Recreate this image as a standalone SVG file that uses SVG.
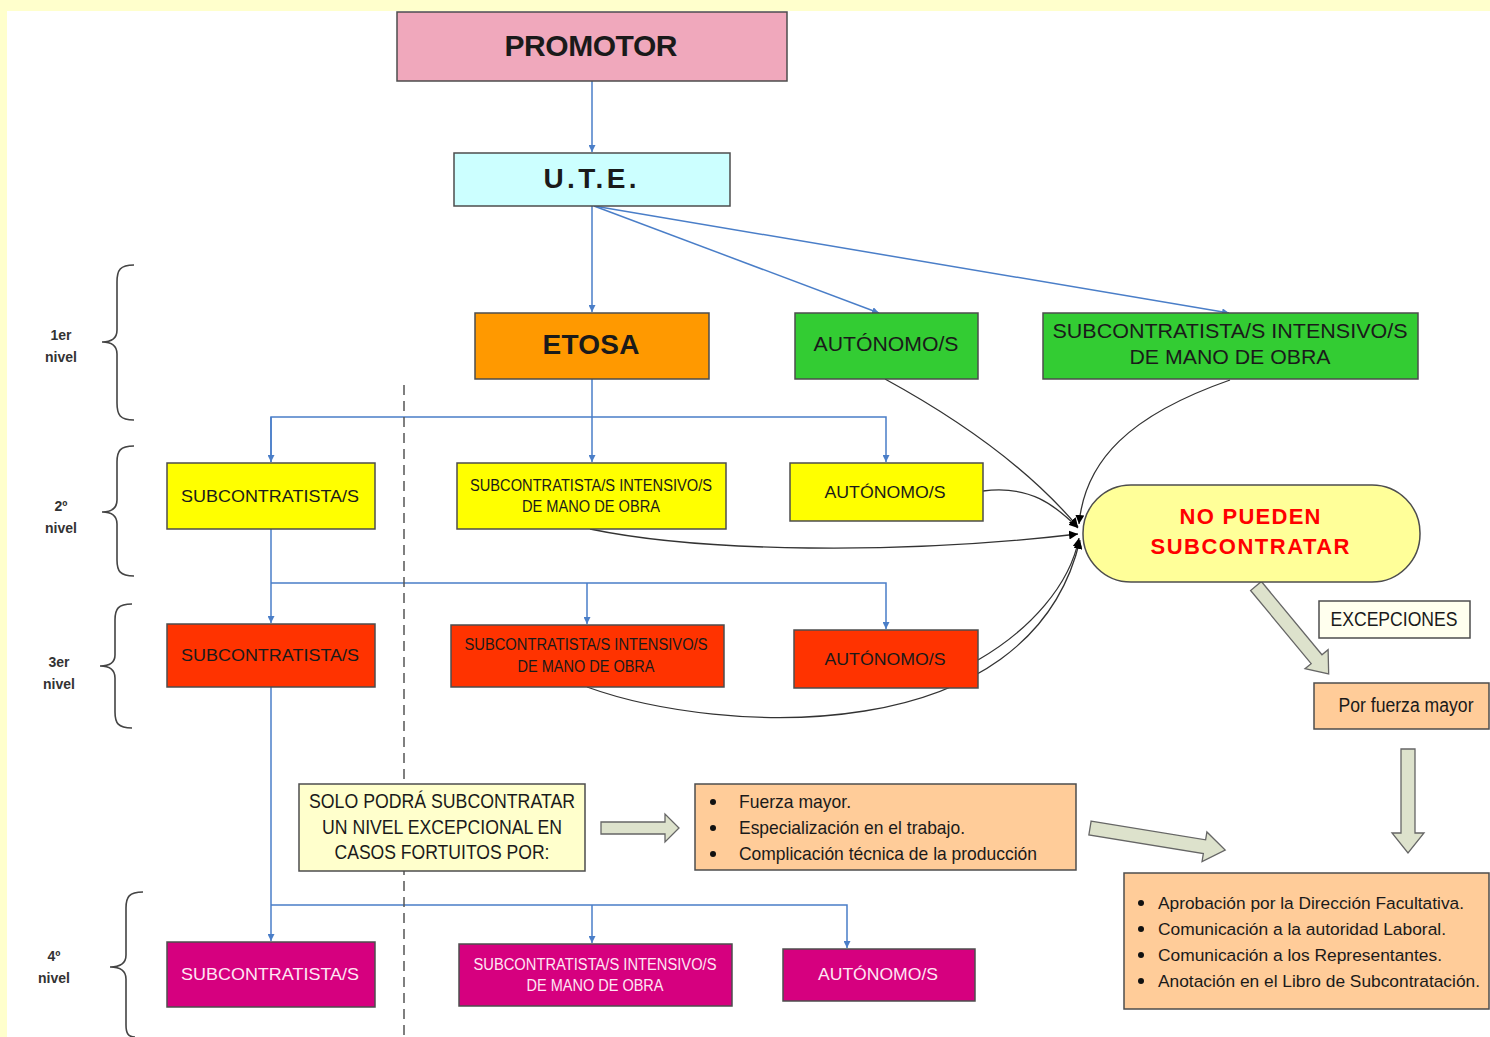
<svg xmlns="http://www.w3.org/2000/svg" width="1490" height="1037" viewBox="0 0 1490 1037">
<style>
.box{stroke:#4d4d4d;stroke-width:1.5}
.t{font-family:"Liberation Sans",Arial,sans-serif;text-anchor:middle;fill:#1a1a1a}
.b{font-weight:bold}
.conn{fill:none;stroke:#4A7EC8;stroke-width:1.5}
.cur{fill:none;stroke:#333;stroke-width:1.3}
.blk{fill:#DDE2CC;stroke:#666;stroke-width:1.3}
.brace{fill:none;stroke:#444;stroke-width:1.6}
.lvl{font-family:"Liberation Sans",Arial,sans-serif;font-weight:bold;font-size:14px;text-anchor:middle;fill:#333}
.lt{font-family:"Liberation Sans",Arial,sans-serif;font-size:19px;fill:#1a1a1a}
.lr{font-family:"Liberation Sans",Arial,sans-serif;font-size:17.2px;fill:#1a1a1a}
</style>
<defs>
<marker id="ab" viewBox="0 0 10 10" refX="10" refY="5" markerWidth="7" markerHeight="7" orient="auto" markerUnits="userSpaceOnUse"><path d="M0,0 L10,5 L0,10 z" fill="#4A7EC8"/></marker>
<marker id="ak" viewBox="0 0 10 10" refX="10" refY="5" markerWidth="9" markerHeight="9" orient="auto" markerUnits="userSpaceOnUse"><path d="M0,0 L10,5 L0,10 z" fill="#000"/></marker>
</defs>
<rect width="1490" height="1037" fill="#fff"/>
<rect x="0" y="0" width="1490" height="11" fill="#FFFFCC"/>
<rect x="0" y="0" width="7" height="1037" fill="#FFFFCC"/>

<g id="connectors">
<path class="conn" d="M592,81 V152" marker-end="url(#ab)"/>
<path class="conn" d="M592,206 V312" marker-end="url(#ab)"/>
<path class="conn" d="M594,206 L879,313" marker-end="url(#ab)"/>
<path class="conn" d="M594,206 L1229,313" marker-end="url(#ab)"/>
<path class="conn" d="M592,379 V462" marker-end="url(#ab)"/>
<path class="conn" d="M271,462 V417 H886 V462" marker-end="url(#ab)"/>
<path class="conn" d="M271,417 V462" marker-end="url(#ab)"/>
<path class="conn" d="M271,529 V623" marker-end="url(#ab)"/>
<path class="conn" d="M271,583 H886 V629" marker-end="url(#ab)"/>
<path class="conn" d="M587,583 V624" marker-end="url(#ab)"/>
<path class="conn" d="M271,687 V941" marker-end="url(#ab)"/>
<path class="conn" d="M271,905 H847 V948" marker-end="url(#ab)"/>
<path class="conn" d="M592,905 V943" marker-end="url(#ab)"/>
<path d="M404,385 V1037" stroke="#555" stroke-width="1.5" stroke-dasharray="10,6" fill="none"/>
<path class="cur" d="M885,379 C960,420 1030,470 1078,527" marker-end="url(#ak)"/>
<path class="cur" d="M1230,380 C1130,415 1085,460 1079,524" marker-end="url(#ak)"/>
<path class="cur" d="M983,491 C1030,485 1055,505 1078,528" marker-end="url(#ak)"/>
<path class="cur" d="M590,529 C700,552 900,555 1078,534" marker-end="url(#ak)"/>
<path class="cur" d="M978,660 C1030,630 1070,585 1079,538" marker-end="url(#ak)"/>
<path class="cur" d="M587,687 C720,735 1030,752 1080,540" marker-end="url(#ak)"/>
<polygon class="blk" transform="translate(601,828)" points="0,-6 64,-6 64,-14 78,0 64,14 64,6 0,6"/>
<polygon class="blk" transform="translate(1090,828) rotate(9.3)" points="0,-7 116,-7 116,-15 137,0 116,15 116,7 0,7"/>
<polygon class="blk" transform="translate(1256,586) rotate(50.4)" points="0,-7 95,-7 95,-15 114,0 95,15 95,7 0,7"/>
<polygon class="blk" transform="translate(1408,749) rotate(90)" points="0,-7 84,-7 84,-16 104,0 84,16 84,7 0,7"/>
</g>

<g id="promotor"><rect class="box" x="397" y="12" width="390" height="69" fill="#F0A8BC"/><text class="t b" x="591" y="56" font-size="30" textLength="173" lengthAdjust="spacing">PROMOTOR</text></g>
<g id="ute"><rect class="box" x="454" y="153" width="276" height="53" fill="#CCFFFF"/><text class="t b" x="590" y="188" font-size="28" textLength="93" lengthAdjust="spacing">U.T.E.</text></g>
<g id="etosa"><rect class="box" x="475" y="313" width="234" height="66" fill="#FF9900"/><text class="t b" x="591" y="354" font-size="28" textLength="97" lengthAdjust="spacing">ETOSA</text></g>
<g id="aut1"><rect class="box" x="795" y="313" width="183" height="66" fill="#33CC33"/><text class="t" x="886" y="351" font-size="20" textLength="145" lengthAdjust="spacingAndGlyphs">AUTÓNOMO/S</text></g>
<g id="sub1"><rect class="box" x="1043" y="313" width="375" height="66" fill="#33CC33"/><text class="t" x="1230" y="338" font-size="20" textLength="355" lengthAdjust="spacingAndGlyphs">SUBCONTRATISTA/S INTENSIVO/S</text><text class="t" x="1230" y="364" font-size="20" textLength="201" lengthAdjust="spacingAndGlyphs">DE MANO DE OBRA</text></g>

<g id="sub2"><rect class="box" x="167" y="463" width="208" height="66" fill="#FFFF00"/><text class="t" x="270" y="502" font-size="17" textLength="178" lengthAdjust="spacingAndGlyphs">SUBCONTRATISTA/S</text></g>
<g id="int2"><rect class="box" x="457" y="463" width="269" height="66" fill="#FFFF00"/><text class="t" x="591" y="491" font-size="16" textLength="242" lengthAdjust="spacingAndGlyphs">SUBCONTRATISTA/S INTENSIVO/S</text><text class="t" x="591" y="512" font-size="16" textLength="138" lengthAdjust="spacingAndGlyphs">DE MANO DE OBRA</text></g>
<g id="aut2"><rect class="box" x="790" y="463" width="193" height="58" fill="#FFFF00"/><text class="t" x="885" y="498" font-size="17" textLength="121" lengthAdjust="spacingAndGlyphs">AUTÓNOMO/S</text></g>

<g id="sub3"><rect class="box" x="167" y="624" width="208" height="63" fill="#FF3300"/><text class="t" x="270" y="661" font-size="17" textLength="178" lengthAdjust="spacingAndGlyphs">SUBCONTRATISTA/S</text></g>
<g id="int3"><rect class="box" x="451" y="625" width="273" height="62" fill="#FF3300"/><text class="t" x="586" y="650" font-size="16" textLength="243" lengthAdjust="spacingAndGlyphs">SUBCONTRATISTA/S INTENSIVO/S</text><text class="t" x="586" y="672" font-size="16" textLength="137" lengthAdjust="spacingAndGlyphs">DE MANO DE OBRA</text></g>
<g id="aut3"><rect class="box" x="794" y="630" width="184" height="58" fill="#FF3300"/><text class="t" x="885" y="665" font-size="17" textLength="121" lengthAdjust="spacingAndGlyphs">AUTÓNOMO/S</text></g>

<g id="sub4"><rect class="box" x="167" y="942" width="208" height="65" fill="#D6007F"/><text class="t" x="270" y="980" font-size="17" textLength="178" lengthAdjust="spacingAndGlyphs" style="fill:#FFE6F4">SUBCONTRATISTA/S</text></g>
<g id="int4"><rect class="box" x="459" y="944" width="273" height="62" fill="#D6007F"/><text class="t" x="595" y="970" font-size="16" textLength="243" lengthAdjust="spacingAndGlyphs" style="fill:#FFE6F4">SUBCONTRATISTA/S INTENSIVO/S</text><text class="t" x="595" y="991" font-size="16" textLength="137" lengthAdjust="spacingAndGlyphs" style="fill:#FFE6F4">DE MANO DE OBRA</text></g>
<g id="aut4"><rect class="box" x="783" y="949" width="192" height="52" fill="#D6007F"/><text class="t" x="878" y="980" font-size="17" textLength="120" lengthAdjust="spacingAndGlyphs" style="fill:#FFE6F4">AUTÓNOMO/S</text></g>

<g id="nopueden"><rect class="box" x="1083" y="485" width="337" height="97" rx="48" ry="48" fill="#FFFF99"/><text class="t b" x="1250" y="524" font-size="22" textLength="141" lengthAdjust="spacing" style="fill:#FF0000">NO PUEDEN</text><text class="t b" x="1250" y="554" font-size="22" textLength="199" lengthAdjust="spacing" style="fill:#FF0000">SUBCONTRATAR</text></g>
<g id="excepciones"><rect class="box" x="1319" y="601" width="151" height="37" fill="#FFFFEE"/><text class="t" x="1394" y="626" font-size="20" textLength="127" lengthAdjust="spacingAndGlyphs">EXCEPCIONES</text></g>
<g id="porfuerza"><rect class="box" x="1314" y="683" width="175" height="46" fill="#FFCC99"/><text class="t" x="1406" y="712" font-size="20" textLength="135" lengthAdjust="spacingAndGlyphs">Por fuerza mayor</text></g>
<g id="solo"><rect class="box" x="299" y="784" width="286" height="87" fill="#FFFFCC"/><text class="t" x="442" y="808" font-size="20" textLength="266" lengthAdjust="spacingAndGlyphs">SOLO PODRÁ SUBCONTRATAR</text><text class="t" x="442" y="834" font-size="20" textLength="240" lengthAdjust="spacingAndGlyphs">UN NIVEL EXCEPCIONAL EN</text><text class="t" x="442" y="859" font-size="20" textLength="215" lengthAdjust="spacingAndGlyphs">CASOS FORTUITOS POR:</text></g>
<g id="causas"><rect class="box" x="695" y="784" width="381" height="86" fill="#FFCC99"/>
<circle cx="713" cy="802" r="3" fill="#111"/><circle cx="713" cy="828" r="3" fill="#111"/><circle cx="713" cy="854" r="3" fill="#111"/>
<text class="lt" x="739" y="808" textLength="112" lengthAdjust="spacingAndGlyphs">Fuerza mayor.</text><text class="lt" x="739" y="834" textLength="226" lengthAdjust="spacingAndGlyphs">Especialización en el trabajo.</text><text class="lt" x="739" y="860" textLength="298" lengthAdjust="spacingAndGlyphs">Complicación técnica de la producción</text></g>
<g id="requisitos"><rect class="box" x="1124" y="873" width="365" height="136" fill="#FFCC99"/>
<circle cx="1141" cy="903" r="3" fill="#111"/><circle cx="1141" cy="929" r="3" fill="#111"/><circle cx="1141" cy="955" r="3" fill="#111"/><circle cx="1141" cy="981" r="3" fill="#111"/>
<text class="lr" x="1158" y="909" textLength="306" lengthAdjust="spacingAndGlyphs">Aprobación por la Dirección Facultativa.</text><text class="lr" x="1158" y="935" textLength="288" lengthAdjust="spacingAndGlyphs">Comunicación a la autoridad Laboral.</text><text class="lr" x="1158" y="961" textLength="284" lengthAdjust="spacingAndGlyphs">Comunicación a los Representantes.</text><text class="lr" x="1158" y="987" textLength="322" lengthAdjust="spacingAndGlyphs">Anotación en el Libro de Subcontratación.</text></g>

<g id="niveles">
<path class="brace" d="M134,265 C120,265 117,270 117,282 V330 C117,338 112,342 102,342 C112,342 117,346 117,354 V403 C117,415 120,420 134,420"/>
<text class="lvl" x="61" y="340">1er</text><text class="lvl" x="61" y="362">nivel</text>
<path class="brace" d="M134,446 C120,446 117,451 117,462 V500 C117,508 112,512 102,512 C112,512 117,516 117,524 V560 C117,571 120,576 134,576"/>
<text class="lvl" x="61" y="511">2º</text><text class="lvl" x="61" y="533">nivel</text>
<path class="brace" d="M132,604 C118,604 115,609 115,620 V655 C115,663 110,666 100,666 C110,666 115,670 115,678 V712 C115,723 118,728 132,728"/>
<text class="lvl" x="59" y="667">3er</text><text class="lvl" x="59" y="689">nivel</text>
<path class="brace" d="M143,892 C129,892 126,897 126,908 V955 C126,963 121,967 110,967 C121,967 126,971 126,979 V1025 C126,1033 128,1037 135,1037"/>
<text class="lvl" x="54" y="961">4º</text><text class="lvl" x="54" y="983">nivel</text>
</g>
</svg>
